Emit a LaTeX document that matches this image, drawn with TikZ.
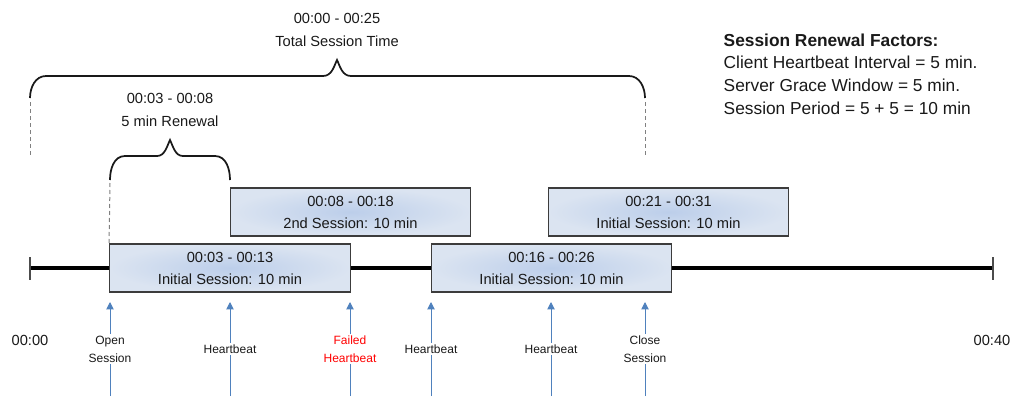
\documentclass[tikz,border=0pt]{standalone}
\usepackage{fontspec}
\setmainfont{Liberation Sans}
\usetikzlibrary{arrows.meta, positioning}
\definecolor{boxin}{RGB}{188,206,234}
\definecolor{boxout}{RGB}{219,228,241}
\definecolor{boxline}{RGB}{60,60,60}
\definecolor{evblue}{RGB}{79,129,189}

\begin{document}
\begin{tikzpicture}[
    x=0.75pt, y=0.75pt,
    session/.style={rectangle, draw=boxline, line width=0.9pt, inner color=boxin, outer color=boxout, minimum width=180.5pt, minimum height=36pt, align=center, font=\fontsize{11}{16.5}\selectfont, text=black!90},
    note/.style={align=center, font=\fontsize{11}{17}\selectfont, text=black!90},
    event/.style={draw=evblue, line width=0.75pt, -{Triangle[width=5.5pt, length=5.5pt]}},
    evlabel/.style={fill=white, inner sep=1.5pt, align=center, font=\fontsize{9}{13.5}\selectfont, text=black!90},
    brace/.style={line width=1.3pt, black!90},
    guide/.style={draw=gray, line width=0.75pt, dash pattern=on 3pt off 2.25pt},
    tick/.style={draw=black!70, line width=1pt}
]
\useasboundingbox (0,0) rectangle (1013,-396);

% timeline
\coordinate (t0) at (30,-268);
\coordinate (t40) at (993,-268);
\draw[line width=3pt] (t0) -- (t40);
\draw[tick] (30,-257) -- (30,-280);
\draw[tick] (993,-257) -- (993,-280);
\node[note] (lab0) at (30,-340) {00:00};
\node[note] (lab40) at (992,-340) {00:40};

% sessions
\node[session] (first) at (230,-268) {00:03 - 00:13\\Initial Session: 10 min};
\node[session] (second) at (350.5,-212) {00:08 - 00:18\\2nd Session: 10 min};
\node[session] (third) at (551.5,-268) {00:16 - 00:26\\Initial Session: 10 min};
\node[session] (fourth) at (668.5,-212) {00:21 - 00:31\\Initial Session: 10 min};

% events
\coordinate (open0) at (110,-396);  \coordinate (open1) at (110,-302);
\coordinate (hb10) at (230,-396);   \coordinate (hb11) at (230,-302);
\coordinate (fail0) at (350,-396);  \coordinate (fail1) at (350,-302);
\coordinate (hb20) at (431,-396);   \coordinate (hb21) at (431,-302);
\coordinate (hb30) at (551,-396);   \coordinate (hb31) at (551,-302);
\coordinate (close0) at (645,-396); \coordinate (close1) at (645,-302);
\draw[event] (open0) -- node[evlabel] {Open\\Session} (open1);
\draw[event] (hb10) -- node[evlabel] {Heartbeat} (hb11);
\draw[event] (fail0) -- node[evlabel, text=red] {Failed\\Heartbeat} (fail1);
\draw[event] (hb20) -- node[evlabel] {Heartbeat} (hb21);
\draw[event] (hb30) -- node[evlabel] {Heartbeat} (hb31);
\draw[event] (close0) -- node[evlabel] {Close\\Session} (close1);

% total session brace
\node[note] (total) at (337,-30) {00:00 - 00:25\\Total Session Time};
\draw[brace] (30,-98) to[out=90,in=180] (46,-76) -- (323,-76)
    .. controls (332,-76) and (334,-66) .. (337,-60)
    .. controls (340,-66) and (342,-76) .. (351,-76) -- (629,-76)
    to[out=0,in=90] (645,-98);
\draw[guide] (30,-102) -- (30,-156);
\draw[guide] (645,-102) -- (645,-156);

% renewal brace
\node[note] (renewal) at (170,-110) {00:03 - 00:08\\5 min Renewal};
\draw[brace] (110,-180) to[out=90,in=180] (125,-156) -- (157,-156)
    .. controls (165,-156) and (167,-146) .. (170,-140)
    .. controls (173,-146) and (175,-156) .. (183,-156) -- (215,-156)
    to[out=0,in=90] (230,-180);
\draw[guide] (110,-183) -- (first.north west);

% factors
\node[anchor=west, align=left, font=\fontsize{13}{17}\selectfont, text=black!90] (factors) at (719,-74)
    {\textbf{Session Renewal Factors:}\\Client Heartbeat Interval = 5 min.\\Server Grace Window = 5 min.\\Session Period = 5 + 5 = 10 min};
\end{tikzpicture}
\end{document}
